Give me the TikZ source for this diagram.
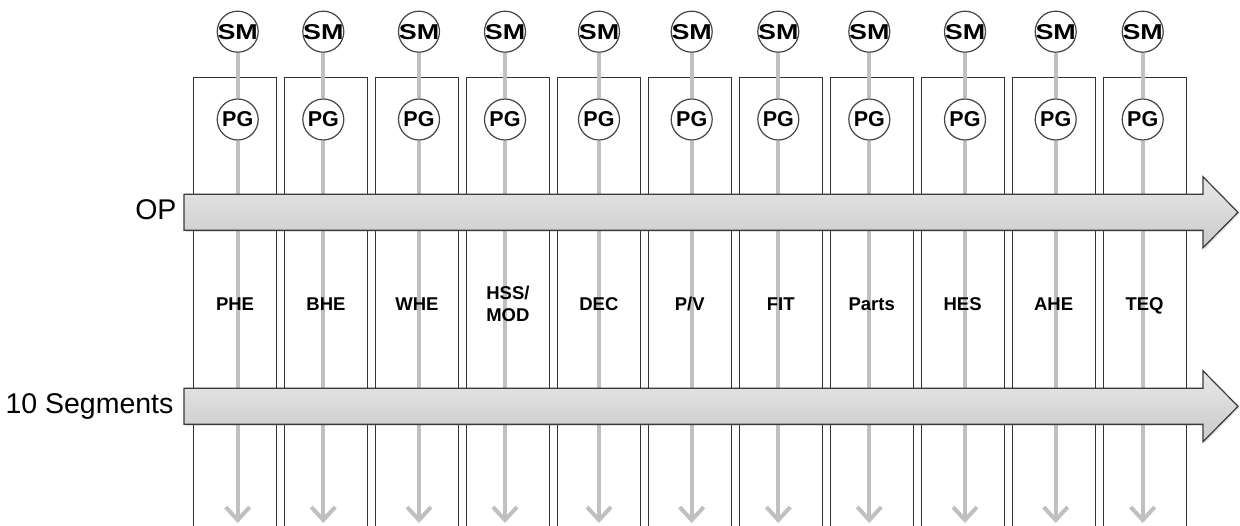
\documentclass[tikz,border=0pt]{standalone}
\usepackage{graphicx}
\usepackage{fontspec}
\setmainfont{Liberation Sans}
\usepackage{tikz}
\usetikzlibrary{positioning,arrows.meta,shadows}
\definecolor{cLane}{HTML}{333333}
\definecolor{cRing}{HTML}{444444}
\definecolor{cLink}{HTML}{C0C0C0}
\definecolor{cBarTop}{HTML}{E8E8E8}
\definecolor{cBarBot}{HTML}{CACACA}
\definecolor{cBarEdge}{HTML}{3A3A3A}
\tikzset{
  lane/.style ={draw=cLane, line width=1.1pt, minimum width=83pt,
                minimum height=470pt, inner sep=0pt, anchor=north west},
  ring/.style ={circle, draw=cRing, line width=1.2pt, fill=white,
                minimum size=41pt, inner sep=0pt,
                font=\bfseries\fontsize{21.5}{21.5}\selectfont},
  link/.style ={draw=cLink, line width=4pt},
  down/.style ={link, -{Straight Barb[length=13pt,width=24pt]}},
  tag/.style  ={font=\bfseries\fontsize{18.5}{21.7}\selectfont, align=center,
                anchor=base},
  side/.style ={font=\fontsize{28.5}{28.5}\selectfont, anchor=base east},
  bar/.style  ={draw=cBarEdge, line width=1.2pt, line join=miter,
                top color=cBarTop, bottom color=cBarBot,
                drop shadow={shadow xshift=1.5pt, shadow yshift=-1.5pt, opacity=0.25}},
}

\begin{document}
\begin{tikzpicture}[x=1pt, y=-1pt]

  \clip (0,0) rectangle (1240,526);

  % ---- lanes (open at the bottom edge) ----
  \foreach \i in {1,...,11}
    \node[lane] (lane\i) at ({193+90.95*(\i-1)},77) {};

  % ---- SM / PG rings ----
  \foreach \cx [count=\i] in {237.7,323.3,419,505,599,691.7,778.3,869.3,965,1055.7,1142.7} {
    \node[ring] (sm\i) at (\cx,31.7) {\makebox[0pt]{\scalebox{1.25}[1]{SM}}};
    \node[ring] (pg\i) at (\cx,119.5) {\makebox[0pt]{PG}};
    \coordinate (end\i) at (\cx,523);
    \draw[link] (sm\i) -- (pg\i);
    \draw[down] (pg\i) -- (end\i);
  }

  % ---- lane tags (baseline of last line placed) ----
  \foreach \txt/\by [count=\i] in {PHE/310.5,BHE/310.5,WHE/310.5,{HSS/\\MOD}/321.5,
      DEC/310.5,{P/V}/310.5,FIT/310.5,Parts/310.5,HES/310.5,AHE/310.5,TEQ/310.5}
    \path (lane\i.north) ++(0,\by-77) node[tag] (tag\i) {\txt};

  % ---- big arrows + side labels ----
  \foreach \yt/\txt/\tx [count=\k] in {194.3/OP/180, 388.3/10 Segments/177} {
    \draw[bar] (184,\yt) -- (1203,\yt) -- (1203,\yt-17.5) -- (1238,\yt+18)
      -- (1203,\yt+53.5) -- (1203,\yt+36) -- (184,\yt+36) -- cycle;
    \node[side] (side\k) at (\tx,\yt+25.5) {\txt};
  }

\end{tikzpicture}
\end{document}
